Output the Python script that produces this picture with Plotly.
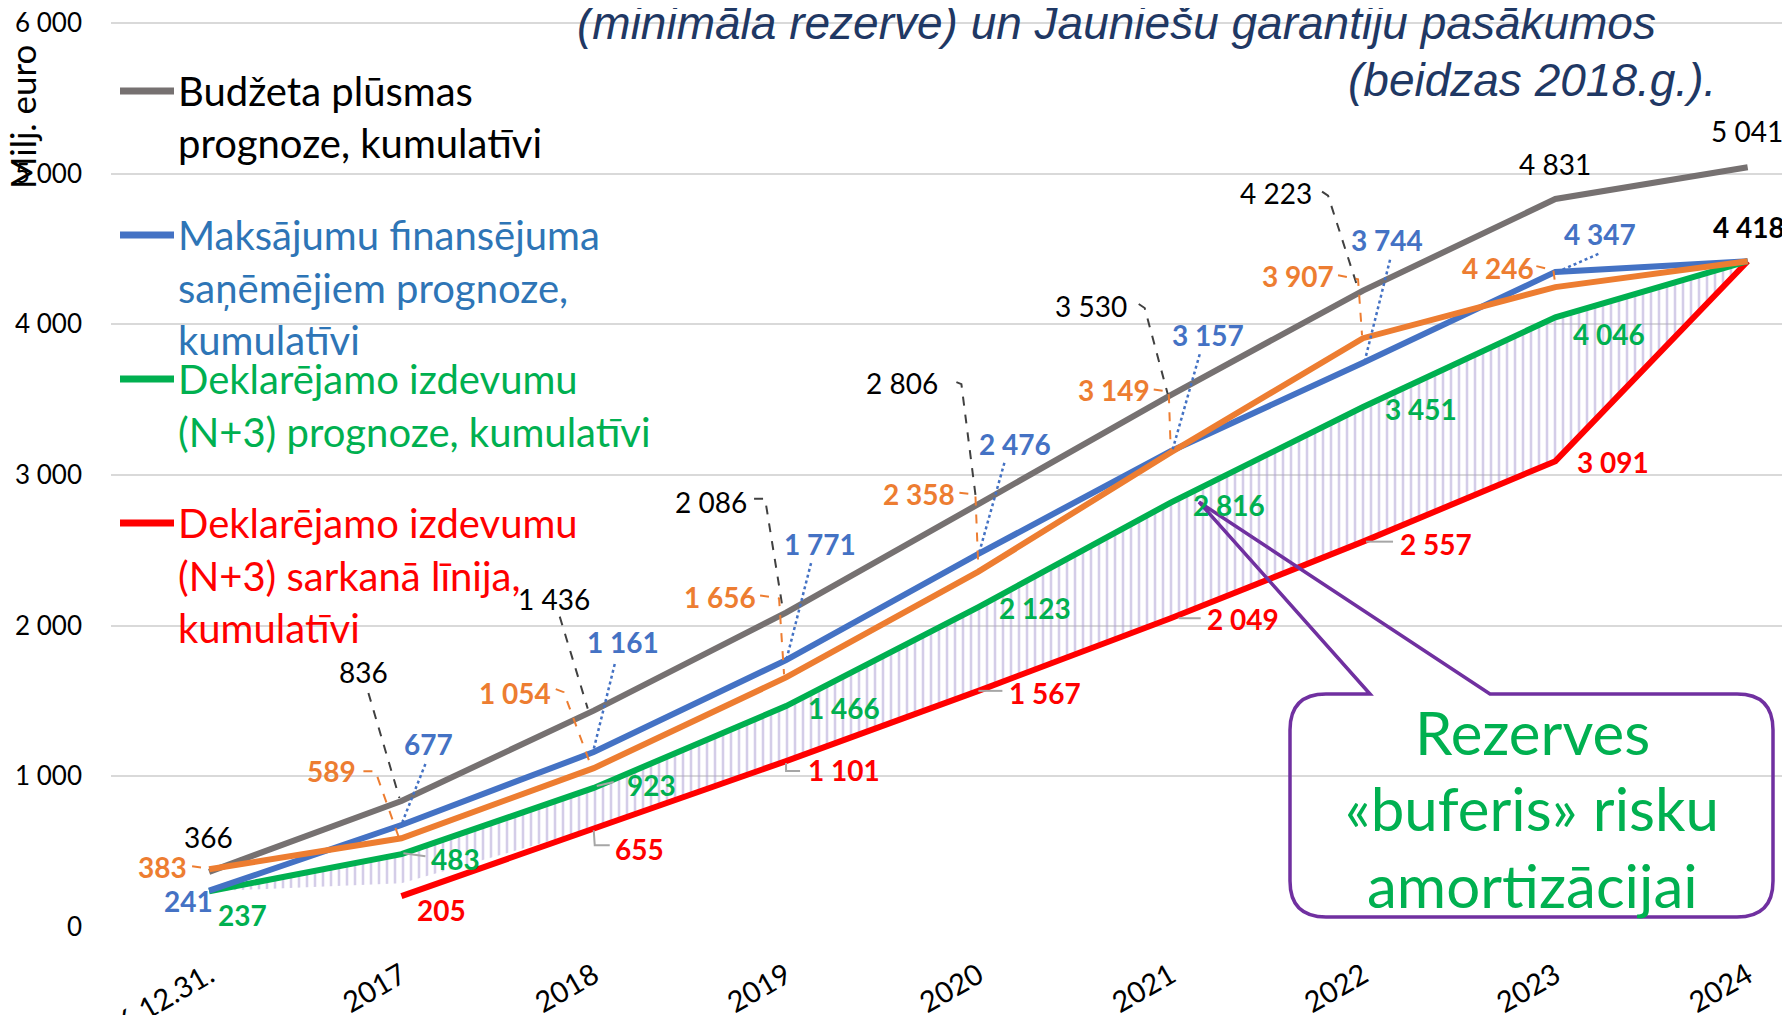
import plotly.graph_objects as go

# ---------------- data ----------------
categories = ["2016 12.31.", "2017", "2018", "2019", "2020", "2021", "2022", "2023", "2024"]
budget_flow = [366, 836, 1436, 2086, 2806, 3530, 4223, 4831, 5041]
payments = [241, 677, 1161, 1771, 2476, 3157, 3744, 4347, 4418]
orange_vals = [383, 589, 1054, 1656, 2358, 3149, 3907, 4246, 4418]
declared = [237, 483, 923, 1466, 2123, 2816, 3451, 4046, 4418]
red_line = [None, 205, 655, 1101, 1567, 2049, 2557, 3091, 4418]
buffer_bottom = [237, 290, 655, 1101, 1567, 2049, 2557, 3091, 4418]
y_ticks = [0, 1000, 2000, 3000, 4000, 5000, 6000]
end_value = 4418

legend_lines = [
    ["Budžeta plūsmas", "prognoze, kumulatīvi"],
    ["Maksājumu finansējuma", "saņēmējiem prognoze,", "kumulatīvi"],
    ["Deklarējamo izdevumu", "(N+3) prognoze, kumulatīvi"],
    ["Deklarējamo izdevumu", "(N+3) sarkanā līnija,", "kumulatīvi"],
]
title_lines = ["(minimāla rezerve) un Jauniešu garantiju pasākumos", "(beidzas 2018.g.)."]
callout_lines = ["Rezerves", "«buferis» risku", "amortizācijai"]
y_title = "Milj. euro"

# ---------------- geometry / style ----------------
# the page body has an 8px margin, so the figure is drawn 8px in from the window corner
OFF = 8
W, H = 1790 - OFF, 1015 - OFF
Y_TOP = 6012  # a little headroom so the 6 000 gridline is not dropped at the plot edge
ML, MR, MT, MB = 111 - OFF, 0, 21 - OFF, 88
PW, PH = W - ML - MR, H - MT - MB
FONT = "Lato, 'Open Sans', sans-serif"

C_GREY, C_BLUE, C_ORANGE, C_GREEN, C_RED = "#767171", "#4472C4", "#ED7D31", "#00B050", "#FF0000"


def px(X):
    """window pixel x -> paper fraction"""
    return (X - OFF - ML) / PW


def py(Y):
    """window pixel y -> paper fraction"""
    return (H - MB - (Y - OFF)) / PH


def fmt(v):
    return f"{v:,}".replace(",", " ")


# label offsets (screen px, y down) and leader polylines relative to the point
grey_lab = [(-1, -35), (-38, -129), (-40, -112), (-75, -111), (-76, -121), (-80, -89), (-87, -98), (0, -35), (-1, -36)]
grey_lead = [None, [(-33, -108), (-2, -3)], [(-34, -94), (-6, -2)],
             [(-32, -114), (-21, -114), (-3, -2)], [(-22, -122), (-17, -120), (-2, -2)],
             [(-32, -91), (-26, -87), (-3, -1)], [(-41, -99), (-35, -95), (-5, -2)], None, None]
blue_lab = [(-21, 10), (27, -81), (29, -110), (34, -116), (37, -110), (37, -116), (24, -123), (45, -38), None]
blue_lead = [None, [(24, -61), (1, -3)], [(21, -88), (0, -3)], [(25, -97), (1, -3)], [(26, -91), (1, -2)],
             [(29, -97), (2, -2)], [(27, -103), (2, -3)], [(43, -18), (2, 0)], None]
orange_lab = [(-47, -2), (-70, -67), (-79, -75), (-66, -80), (-59, -78), (-57, -62), (-65, -62), (-57, -19), None]
orange_lead = [[(-17, -3), (-3, -1)], [(-38, -67), (-26, -67), (-3, -2)], [(-38, -79), (-30, -76), (-3, -3)],
               [(-26, -82), (-7, -79), (-2, -3)], [(-19, -79), (-3, -77), (0, -3)],
               [(-17, -63), (-2, -61), (0, -3)], [(-25, -63), (-5, -59), (-1, -3)],
               [(-19, -21), (-2, -17), (0, -2)], None]
green_lab = [(33, 24), (54, 5), (58, -3), (58, 2), (57, 1), (58, 2), (58, 2), (54, 17), None]
green_lead = [None, [(2, -1), (24, 2)], [(3, -2), (20, -6)], None, None, None, None, None, None]
red_lab = [None, (40, 14), (46, 21), (58, 9), (67, 2), (72, 1), (73, 2), (58, 1), None]
red_lead = [None, None, [(0, 2), (1, 17), (16, 17)], [(0, 2), (0, 10), (14, 10)], [(0, 0), (24, 0)],
            [(8, 0), (30, 0)], [(3, 0), (30, 0)], None, None]

fig = go.Figure()

# hatched reserve buffer
fig.add_trace(go.Scatter(x=categories, y=buffer_bottom, mode="lines", line=dict(width=0),
                         showlegend=False, hoverinfo="skip"))
fig.add_trace(go.Scatter(x=categories, y=declared, mode="lines", line=dict(width=0),
                         fill="tonexty", fillcolor="rgba(0,0,0,0)",
                         fillpattern=dict(shape="|", fgcolor="#AA9CD2", bgcolor="rgba(0,0,0,0)",
                                          size=8, solidity=0.32),
                         showlegend=False, hoverinfo="skip"))

for vals, col in [(red_line, C_RED), (declared, C_GREEN), (payments, C_BLUE),
                  (budget_flow, C_GREY), (orange_vals, C_ORANGE)]:
    fig.add_trace(go.Scatter(x=categories, y=vals, mode="lines", line=dict(color=col, width=6),
                             showlegend=False, connectgaps=False))

annotations = []
shapes = []


def add_labels(vals, offs, leads, color, bold, lead_color, lead_dash, lead_w):
    for i, v in enumerate(vals):
        if v is None or offs[i] is None:
            continue
        dx, dy = offs[i]
        txt = fmt(v)
        if bold:
            txt = "<b>" + txt + "</b>"
        annotations.append(dict(x=i, y=v, xref="x", yref="y", text=txt, showarrow=False,
                                xshift=dx, yshift=-dy, font=dict(family=FONT, size=28, color=color)))
        if leads[i]:
            pts = leads[i]
            path = "M " + " L ".join(f"{a},{-b}" for a, b in pts)
            shapes.append(dict(type="path", xref="x", yref="y", xsizemode="pixel", ysizemode="pixel",
                               xanchor=i, yanchor=v, path=path,
                               line=dict(color=lead_color, width=lead_w, dash=lead_dash)))


add_labels(budget_flow, grey_lab, grey_lead, "#000000", False, "#404040", "dash", 2)
add_labels(payments, blue_lab, blue_lead, C_BLUE, True, C_BLUE, "dot", 2.5)
add_labels(orange_vals, orange_lab, orange_lead, C_ORANGE, True, C_ORANGE, "dash", 2)
add_labels(declared, green_lab, green_lead, C_GREEN, True, "#A6A6A6", "solid", 2)
add_labels(red_line, red_lab, red_lead, C_RED, True, "#A6A6A6", "solid", 2)
annotations.append(dict(x=len(categories) - 1, y=end_value, xref="x", yref="y", text="<b>" + fmt(end_value) + "</b>",
                        showarrow=False, xshift=1, yshift=34, font=dict(family=FONT, size=28, color="#000000")))

# custom legend
legend_cols = [(C_GREY, "#000000"), (C_BLUE, "#2E75B6"), (C_GREEN, C_GREEN), (C_RED, C_RED)]
legend_first_y = [91, 235, 379, 523]
LINE_STEP = 52.5
for (lc, tc), lines, y0 in zip(legend_cols, legend_lines, legend_first_y):
    shapes.append(dict(type="line", xref="paper", yref="paper", x0=px(120), x1=px(174), y0=py(y0), y1=py(y0),
                       line=dict(color=lc, width=7)))
    for k, t in enumerate(lines):
        annotations.append(dict(x=px(176), y=py(y0 + k * LINE_STEP), xref="paper", yref="paper", text=t,
                                showarrow=False, xanchor="left", yanchor="middle",
                                font=dict(family=FONT, size=40, color=tc)))

# title lines (top right)
TFONT = "'Liberation Sans', Arial, sans-serif"
annotations.append(dict(x=px(1658), y=py(23), xref="paper", yref="paper", text="<i>" + title_lines[0] + "</i>",
                        showarrow=False, xanchor="right", yanchor="middle",
                        font=dict(family=TFONT, size=46, color="#1F3864")))
annotations.append(dict(x=px(1718), y=py(80), xref="paper", yref="paper", text="<i>" + title_lines[1] + "</i>",
                        showarrow=False, xanchor="right", yanchor="middle",
                        font=dict(family=TFONT, size=46, color="#1F3864")))

# y axis title
annotations.append(dict(x=px(22), y=py(117), xref="paper", yref="paper", text=y_title, textangle=-90,
                        showarrow=False, xanchor="center", yanchor="middle",
                        font=dict(family=FONT, size=35, color="#000000")))


# callout box (window pixel coordinates -> pixels relative to plot-area bottom-left)
def rel(X, Y):
    return f"{X - OFF - ML},{H - MB - (Y - OFF)}"


bl, br, bt, bb, rr = 1290, 1773, 694, 917, 36
callout_path = (f"M {rel(1370, bt)} L {rel(1199, 502)} L {rel(1490, bt)} L {rel(br - rr, bt)} "
                f"Q {rel(br, bt)} {rel(br, bt + rr)} L {rel(br, bb - rr)} Q {rel(br, bb)} {rel(br - rr, bb)} "
                f"L {rel(bl + rr, bb)} Q {rel(bl, bb)} {rel(bl, bb - rr)} L {rel(bl, bt + rr)} "
                f"Q {rel(bl, bt)} {rel(bl + rr, bt)} Z")
shapes.append(dict(type="path", xref="paper", yref="paper", xsizemode="pixel", ysizemode="pixel",
                   xanchor=0, yanchor=0, path=callout_path, line=dict(color="#7030A0", width=3.5),
                   fillcolor="rgba(0,0,0,0)"))
for t, yy in zip(callout_lines, [732, 808, 885]):
    annotations.append(dict(x=px(1532), y=py(yy), xref="paper", yref="paper", text=t, showarrow=False,
                            xanchor="center", yanchor="middle", font=dict(family=FONT, size=60, color=C_GREEN)))

fig.update_layout(
    width=W, height=H,
    margin=dict(l=ML, r=MR, t=MT, b=MB, pad=0),
    paper_bgcolor="white", plot_bgcolor="white",
    showlegend=False,
    annotations=annotations, shapes=shapes,
    xaxis=dict(type="category", range=[-0.51, 8.22], showgrid=False, zeroline=False, showline=False,
               tickangle=-30, tickfont=dict(family=FONT, size=29, color="#000000"), ticks="",
               ticklabelstandoff=25, ticklabeloverflow="allow", automargin=False, fixedrange=True),
    yaxis=dict(range=[0, Y_TOP], tickvals=y_ticks, ticktext=[fmt(v) for v in y_ticks],
               showgrid=True, gridcolor="#D9D9D9", gridwidth=2, zeroline=False, showline=False,
               tickfont=dict(family=FONT, size=26, color="#000000"), ticks="",
               ticklabelstandoff=28, ticklabeloverflow="allow", automargin=False, fixedrange=True),
)

fig.write_html("out.html")
